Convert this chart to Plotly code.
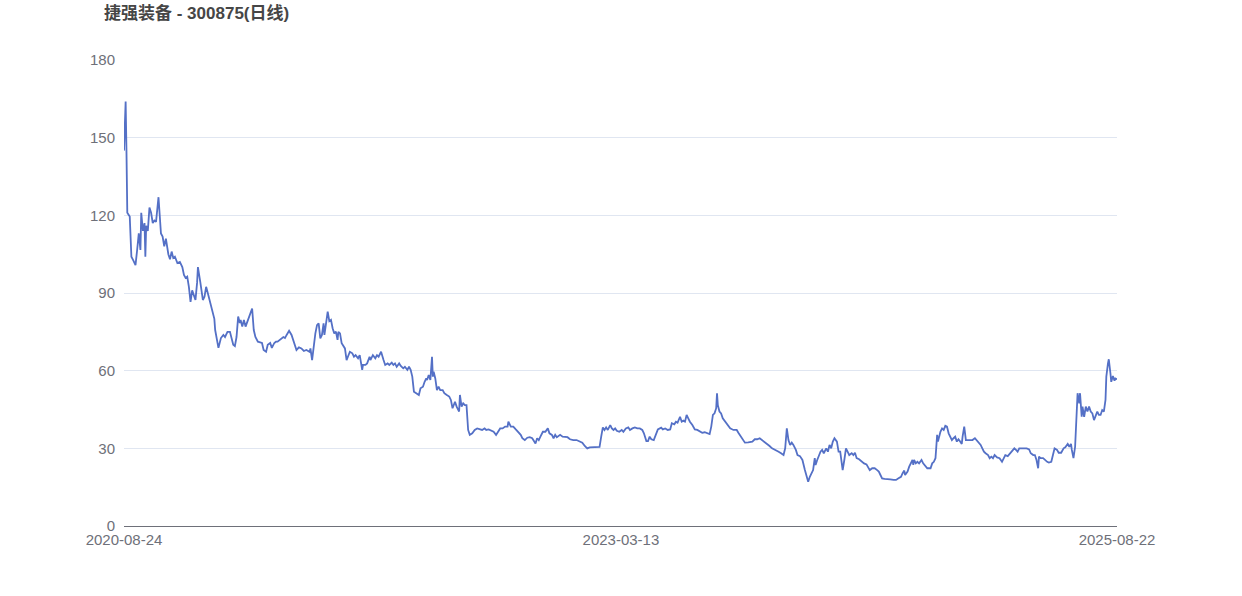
import plotly.graph_objects as go

# Trading-day index (0 = 2020-08-24, 1209 = 2025-08-22) and closing price
day_idx = [0, 2, 3, 4, 7, 9, 11, 14, 16, 18, 20, 21, 23, 25, 26, 27, 29, 31, 33, 35, 37, 39, 42, 45, 47, 49, 51, 54, 56, 58, 60, 62, 65, 68, 71, 73, 75, 77, 79, 81, 83, 84, 87, 89, 90, 93, 94, 96, 98, 100, 102, 105, 107, 110, 111, 113, 115, 118, 121, 123, 126, 129, 131, 133, 135, 137, 139, 141, 142, 144, 146, 148, 151, 154, 156, 158, 160, 163, 165, 168, 170, 173, 175, 178, 180, 183, 185, 187,
           194, 196, 198, 201, 204, 207, 210, 213, 216, 219, 222, 226, 227, 229, 230, 233, 235, 237, 239, 241, 243, 244, 246, 248, 250, 252, 254, 256, 258, 260, 261, 263, 265, 267, 269, 271, 273, 275, 278, 280, 282, 285, 287, 290, 291, 294, 296, 299, 300, 303, 306, 308, 310, 313, 316, 318, 321, 323, 326, 328, 330, 332, 335, 337, 340, 342, 345, 347, 349, 351, 353, 356, 359, 361, 364, 366, 368, 369, 371, 373, 375, 376, 377, 379, 381, 383, 385, 388, 390, 393, 396, 398,
           400, 403, 405, 408, 409, 411, 413, 415, 417, 419, 421, 424, 427, 430, 433, 436, 439, 441, 444, 446, 450, 453, 455, 458, 461, 464, 467, 468, 471, 474, 477, 480, 483, 485, 488, 491, 494, 497, 499, 501, 503, 505, 507, 510, 513, 516, 518, 521, 523, 525, 527, 531, 534, 537, 540, 543, 547, 551, 555, 558, 561, 564, 567, 571, 575, 579, 581, 583, 585, 587, 589, 592, 594, 596, 598, 600, 603, 606, 608, 611, 614, 616, 619, 622, 625,
           628, 631, 633, 636, 638, 640, 642, 645, 648, 650, 654, 656, 659, 662, 665, 667, 670, 672, 674, 677, 679, 681, 683, 685, 687, 689, 692, 695, 698, 701, 704, 707, 710, 713, 715, 717, 719, 721, 722, 723, 725, 727, 729, 732, 735, 738, 742, 746, 748, 751, 754, 756, 760, 763, 765, 768, 771, 774, 777, 780, 783, 786, 789, 792, 795, 797, 800, 803, 805, 807, 809, 811, 813, 815, 818, 820, 823,
           826, 829, 831, 833, 835, 837, 839, 841, 842, 844, 846, 848, 850, 852, 855, 857, 859, 861, 863, 865, 868, 870, 872, 873, 875, 877, 879, 881, 883, 886, 888, 890, 892, 895, 898, 901, 904, 906, 908, 911, 914, 917, 919, 921, 923, 926, 929, 933, 937, 940, 943, 946, 948, 950, 951, 954, 956, 958, 960, 961, 962, 964, 966, 968, 971, 973, 976, 978, 982, 984, 986, 988, 989, 990, 991, 993, 994, 996, 998, 1000, 1002, 1004, 1006, 1008, 1010, 1012, 1014, 1016, 1018, 1020, 1021, 1023, 1025, 1027, 1031, 1033, 1036, 1038, 1041,
           1043, 1045, 1047, 1049, 1052, 1054, 1056, 1058, 1060, 1063, 1066, 1069, 1071, 1073, 1076, 1079, 1081, 1084, 1086, 1088, 1090, 1093, 1096, 1099, 1102, 1104, 1107, 1109, 1111, 1113, 1114, 1116, 1119, 1121, 1124, 1126, 1129, 1131, 1133, 1136, 1138, 1141, 1144, 1146, 1149, 1151, 1153, 1154, 1156, 1158, 1160, 1161, 1163, 1164, 1166, 1167, 1169, 1171, 1173, 1175, 1177, 1179, 1181, 1183, 1185, 1187, 1189, 1191, 1193, 1195, 1196, 1198, 1199, 1201, 1202, 1204, 1206, 1207, 1209]

close = [145, 164, 145, 121, 119.5, 104, 102.8, 100.8, 106.6, 113, 106.6, 121, 114, 117, 104, 116, 114, 123, 121, 117, 118, 117.5, 127, 113, 111.8, 108, 111, 105, 103, 106, 103.5, 104, 101.6, 102, 100, 97, 95.8, 96.3, 92.4, 86.6, 91, 90, 87.3, 94, 100, 94, 91, 87.3, 88.6, 92.4, 90, 86, 82.8, 80, 75.7, 71.9, 68.8, 72.6, 73.8, 73, 75, 75, 72.6, 70, 69.5, 73, 80.9, 78.4, 79.6, 77, 79.6, 77, 79.6, 82.8, 84, 75.7, 73, 71.2, 71, 70.7, 68, 67.3, 70, 70.7, 68.8, 70.7, 71.2, 71.2,
         73, 72.6, 73.8, 75.4, 73.8, 70.6, 68, 69, 68.6, 67.6, 68, 67.3, 68.6, 64.1, 67.3, 74.4, 77.6, 78.3, 72.5, 73.8, 78.3, 73.8, 78.3, 82.8, 79.1, 79.6, 76.4, 74.4, 75.1, 71.9, 75, 74.4, 70.6, 69.3, 68.6, 64.1, 66, 67.3, 66.7, 65.4, 66, 64.8, 66, 60.3, 62.2, 62.2, 62.8, 65.4, 64.1, 66, 64.8, 66, 65.4, 67.3, 64.1, 62.2, 62.8, 62.2, 63.1, 62.2, 62.8, 61.5, 62.8, 61.8, 60.9, 61.5, 60.3, 61.5, 60.3, 57.7, 51.9, 51.3, 50.6, 53.2, 53.8, 55.7, 57, 56.4, 58.3, 56.4, 65.4, 57.7, 59.6, 57, 52.5, 53.8, 52.5, 52.5, 51.3, 50.6, 50, 48.7,
         45.5, 48, 46.1, 44.2, 50.6, 46.1, 47.4, 46.7, 46.7, 37.1, 35.2, 35.8, 37.1, 37.7, 37.3, 37.1, 37.7, 37.1, 37.3, 37.1, 36.4, 35.2, 36.4, 37.7, 37.7, 38.4, 38.4, 40.3, 38.4, 38.4, 37.3, 36.4, 35.2, 33.9, 33.2, 34.1, 34.3, 33.9, 32.6, 31.9, 33.9, 33.2, 34.5, 36.4, 36.4, 37.7, 35.8, 35.2, 33.9, 35.2, 34.3, 35.2, 34.5, 34.5, 34.3, 33.5, 33.2, 33.2, 32.8, 32.2, 30.9, 30, 30.4, 30.4, 30.6, 30.6, 34.5, 38.1, 37.1, 38.1, 37.1, 39, 37.7, 37.1, 37.7, 36.8, 36.4, 37.1, 36.4, 37.7, 38.1, 37.1, 37.7, 38.1, 37.7,
         37.7, 37.1, 35.8, 32.8, 32.8, 34.5, 33.5, 33.2, 35.8, 37.3, 38, 37.3, 37.7, 37.1, 37.3, 39.7, 39.3, 40.3, 39.9, 42.2, 40.3, 40.7, 40.3, 42.9, 41.6, 40.3, 39, 37.3, 37.1, 36.7, 36, 36.2, 35.8, 35.5, 38.4, 42.9, 43.5, 45.5, 51.3, 46.7, 44.2, 43.5, 41.6, 40.3, 39.3, 37.7, 37.1, 37.1, 36, 34.5, 33.2, 32.2, 32.3, 32.6, 32.6, 33.5, 33.5, 33.9, 33.2, 32.2, 31.6, 30.9, 30, 29.6, 29.1, 28.7, 28.1, 27.4, 30, 37.7, 33.2, 31.3, 32.2, 31.3, 29.4, 27.4, 27,
         25.5, 21.6, 19, 17.1, 19, 20.4, 21.6, 26.2, 23.6, 25.5, 27.4, 28.7, 29.4, 28.1, 30, 28.7, 31.3, 30, 32.6, 33.9, 32.6, 28.7, 28.7, 26.8, 21.6, 25.5, 30, 28.7, 27.4, 28.1, 27.4, 28.3, 26.2, 25.8, 24.8, 24.2, 23.8, 22.9, 21.6, 22.3, 22.3, 21.6, 21, 19.7, 18.4, 18.2, 18, 18, 17.8, 17.8, 18.4, 19, 20.4, 21.4, 19.7, 21, 22.9, 24.2, 25.5, 23.6, 25.5, 24.2, 24.8, 24.2, 25.5, 24.2, 22.9, 22.3, 22.3, 24.2, 24.8, 26.2, 30.6, 35.2, 32.6, 35.2, 36.4, 37.7, 37.1, 38.7, 38.4, 35.8, 34.5, 33.2, 33.9, 34.5, 32.6, 33.5, 32.6, 31.7, 34.5, 38.4, 33.2, 33.2, 33, 33.2, 33.9, 33.2, 31.9,
         31.3, 30, 28.7, 28.1, 27.4, 26.2, 26.8, 26.2, 27.4, 26.5, 26.2, 24.8, 26.2, 27.4, 27, 28.1, 28.7, 30, 29.4, 28.7, 30, 30, 30, 30, 29.6, 28.1, 27.4, 27.4, 25.5, 22.3, 26.8, 26.2, 26.2, 25.5, 24.8, 24.5, 24.8, 27.4, 30, 29.4, 28.3, 28.3, 30, 30.4, 31.7, 30.6, 31.7, 29.4, 26.2, 30.6, 43.5, 51.3, 47.4, 51.3, 42.2, 46.1, 42.2, 46.1, 44.2, 46.1, 44.2, 43.5, 40.9, 42.9, 44.2, 42.9, 42.9, 44.8, 44.2, 48.7, 57.7, 62.8, 64.4, 59, 55.7, 57.9, 56.1, 57, 56.7]

tick_positions = [0, 605, 1209]
tick_labels = ["2020-08-24", "2023-03-13", "2025-08-22"]
y_ticks = [0, 30, 60, 90, 120, 150, 180]

FONT = "Liberation Sans, Arial, Noto Sans CJK SC, sans-serif"
W, H = 1242, 596

fig = go.Figure()
fig.add_trace(go.Scatter(
    x=day_idx, y=close, mode="lines",
    line=dict(color="#5470C6", width=1.8),
    hoverinfo="y", showlegend=False,
))

fig.update_layout(
    width=W, height=H,
    margin=dict(l=124, r=125, t=60, b=70),
    paper_bgcolor="white", plot_bgcolor="white",
    font=dict(family=FONT, size=15, color="#6E7079"),
    title=dict(
        text="<b>捷强装备 - 300875(日线)</b>",
        x=104 / W, xref="container", xanchor="left",
        y=1 - 13 / H, yref="container", yanchor="middle",
        font=dict(family=FONT, size=17, color="#464646"),
    ),
    xaxis=dict(
        range=[0, 1209], showgrid=False, zeroline=False,
        showline=True, linecolor="#6E7079", linewidth=1,
        tickmode="array", tickvals=tick_positions, ticktext=tick_labels,
        ticks="", tickfont=dict(size=15, color="#6E7079"),
        fixedrange=True,
    ),
    yaxis=dict(
        range=[0, 180], tickmode="array", tickvals=y_ticks,
        showgrid=True, gridcolor="#E0E6F1", gridwidth=1,
        zeroline=False, showline=False, ticks="",
        ticklabelstandoff=8,
        tickfont=dict(size=15, color="#6E7079"),
        fixedrange=True,
    ),
)

# Remove the browser's default 8px body margin so the figure sits at the page origin
fig.write_html(
    "out.html",
    config={"displayModeBar": False},
    post_script="document.body.style.margin='0px';document.body.style.overflow='hidden';",
)
